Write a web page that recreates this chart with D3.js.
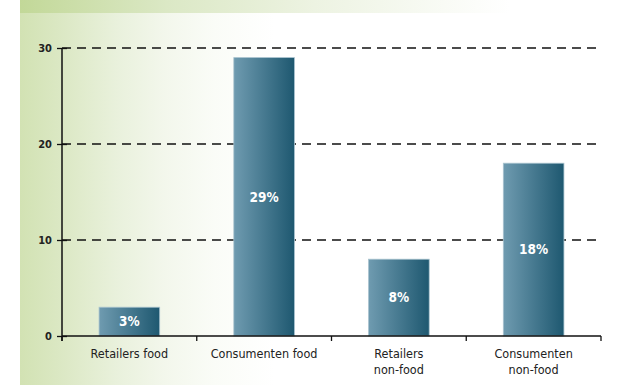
<!DOCTYPE html>
<html>
<head>
<meta charset="utf-8">
<script src="https://cdn.jsdelivr.net/npm/d3@7"></script>
<style>
  html, body { margin: 0; padding: 0; background: #fff; }
  svg { display: block; }
  text { font-family: "Liberation Sans Narrow", "DejaVu Sans Condensed", "Roboto", sans-serif; }
</style>
</head>
<body>
<svg id="chart" width="626" height="385"></svg>
<script>
// Share per group (percent)
const categories = [["Retailers food"], ["Consumenten food"], ["Retailers", "non-food"], ["Consumenten", "non-food"]];
const values = [3, 29, 8, 18];
const valueLabels = ["3%", "29%", "8%", "18%"];
const yTicks = [0, 10, 20, 30];

const W = 626, H = 385;
const margin = { left: 62, right: 25, top: 48, bottom: 49 };
const svg = d3.select("#chart");
const defs = svg.append("defs");

// Background gradients
const bgGrad = defs.append("linearGradient").attr("id", "bgGrad").attr("x1", 0).attr("x2", 1).attr("y1", 0).attr("y2", 0);
[[0, "#d2e2b3"], [0.08, "#dde9c7"], [0.16, "#e9f1dc"], [0.24, "#f3f7ec"], [0.32, "#fafcf7"], [0.42, "#ffffff"], [1, "#ffffff"]]
  .forEach(([o, c]) => bgGrad.append("stop").attr("offset", o).attr("stop-color", c));

const topGrad = defs.append("linearGradient").attr("id", "topGrad").attr("x1", 0).attr("x2", 1).attr("y1", 0).attr("y2", 0);
[[0, "#c2d898"], [0.3, "#dbe8c5"], [0.6, "#edf3e2"], [1, "#ffffff"]]
  .forEach(([o, c]) => topGrad.append("stop").attr("offset", o).attr("stop-color", c));

const barGrad = defs.append("linearGradient").attr("id", "barGrad").attr("x1", 0).attr("x2", 1).attr("y1", 0).attr("y2", 0);
barGrad.append("stop").attr("offset", 0).attr("stop-color", "#6f9bb0");
barGrad.append("stop").attr("offset", 1).attr("stop-color", "#1e5870");

svg.append("rect").attr("x", 20).attr("y", 13).attr("width", W - 20).attr("height", H - 13).attr("fill", "url(#bgGrad)");
svg.append("rect").attr("x", 20).attr("y", 0).attr("width", 490).attr("height", 13).attr("fill", "url(#topGrad)");

const x = d3.scaleBand()
  .domain(d3.range(categories.length))
  .range([margin.left, W - margin.right])
  .paddingInner(0.55)
  .paddingOuter(0.275);

const y = d3.scaleLinear()
  .domain([0, 30])
  .range([H - margin.bottom, margin.top]);

const step = x.step();
const x0 = margin.left, x1 = W - margin.right;

// Dashed grid lines
svg.append("g").selectAll("line")
  .data(yTicks.filter(d => d > 0))
  .join("line")
  .attr("x1", x0).attr("x2", x1)
  .attr("y1", d => y(d)).attr("y2", d => y(d))
  .attr("stroke", "#111").attr("stroke-width", 1.3)
  .attr("stroke-dasharray", "9,6");

// Bars
svg.append("g").selectAll("rect")
  .data(values)
  .join("rect")
  .attr("x", (d, i) => x(i))
  .attr("width", x.bandwidth())
  .attr("y", d => y(d))
  .attr("height", d => y(0) - y(d))
  .attr("fill", "url(#barGrad)")
  .attr("stroke", "#a9c3cf").attr("stroke-width", 0.8);

// Value labels inside bars
svg.append("g").selectAll("text")
  .data(values)
  .join("text")
  .attr("x", (d, i) => x(i) + x.bandwidth() / 2)
  .attr("y", d => (y(d) + y(0)) / 2)
  .attr("dy", "0.35em")
  .attr("text-anchor", "middle")
  .attr("fill", "#fff")
  .attr("font-size", 13.5)
  .attr("font-weight", "bold")
  .text((d, i) => valueLabels[i]);

// Y axis
const yAxis = d3.axisLeft(y).tickValues(yTicks).tickSize(5).tickPadding(5).tickFormat(d3.format("d"));
const gy = svg.append("g").attr("transform", `translate(${x0},0)`).call(yAxis);
gy.select(".domain").remove();
gy.append("line").attr("x1", 0).attr("x2", 0).attr("y1", y(30)).attr("y2", y(0) + 5).attr("stroke", "#111").attr("stroke-width", 1.5);
gy.selectAll(".tick line").attr("x1", -5).attr("x2", 5).attr("stroke", "#111").attr("stroke-width", 1.3);
gy.selectAll(".tick text").attr("font-size", 11).attr("fill", "#222").attr("font-weight", "bold").attr("x", -10);

// X axis: baseline, boundary ticks and category labels
const gx = svg.append("g");
gx.append("line").attr("x1", x0).attr("x2", x1).attr("y1", y(0)).attr("y2", y(0)).attr("stroke", "#111").attr("stroke-width", 1.5);
gx.selectAll(".bt")
  .data(d3.range(categories.length + 1))
  .join("line")
  .attr("class", "bt")
  .attr("x1", i => x0 + i * step).attr("x2", i => x0 + i * step)
  .attr("y1", y(0)).attr("y2", y(0) + 5)
  .attr("stroke", "#111").attr("stroke-width", 1.3);

const catText = gx.selectAll(".cat")
  .data(categories)
  .join("text")
  .attr("class", "cat")
  .attr("x", (d, i) => x(i) + x.bandwidth() / 2)
  .attr("y", y(0) + 22)
  .attr("text-anchor", "middle")
  .attr("font-size", 12.5)
  .attr("fill", "#222");
catText.each(function(lines) {
  const t = d3.select(this);
  lines.forEach((ln, k) => {
    t.append("tspan").attr("x", t.attr("x")).attr("dy", k === 0 ? 0 : 16).text(ln);
  });
});
</script>
</body>
</html>
